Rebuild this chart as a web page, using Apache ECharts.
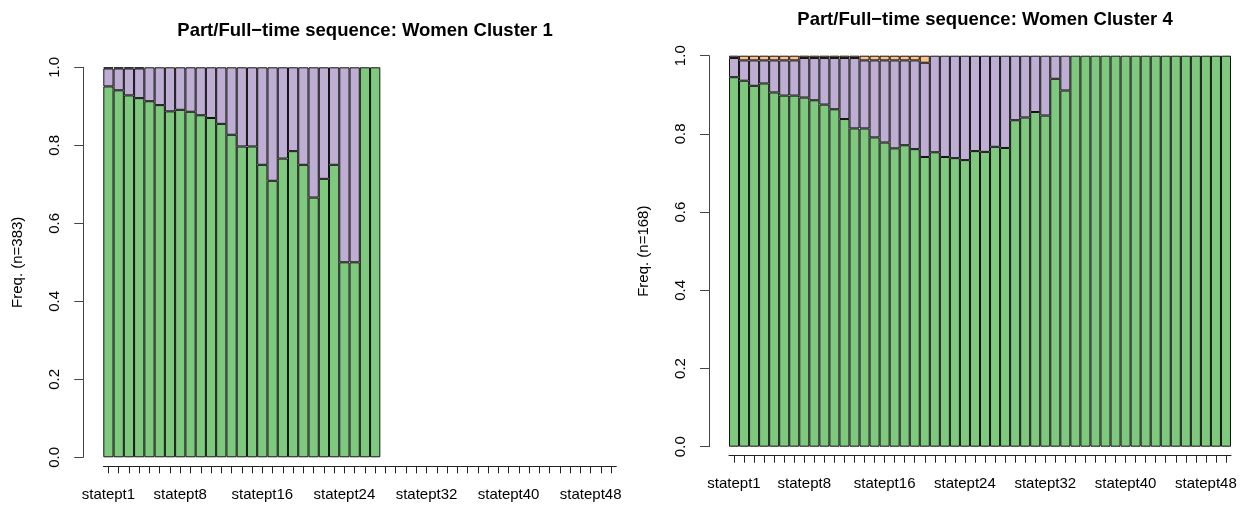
<!DOCTYPE html>
<html>
<head>
<meta charset="utf-8">
<script src="https://cdn.jsdelivr.net/npm/echarts@6/dist/echarts.min.js"></script>
<style>
html,body{margin:0;padding:0;background:#fff;}
#chart{width:1258px;height:510px;}
</style>
</head>
<body>
<div id="chart"></div>
<script>
// categories (50 time positions)
const categories = Array.from({length: 50}, (_, i) => 'statept' + (i + 1));
const shownLabels = [0, 7, 15, 23, 31, 39, 47];

// Women Cluster 1 (n=383): 27 positions observed
const green1 = [0.951,0.941,0.928,0.921,0.913,0.903,0.887,0.891,0.886,0.877,0.870,0.855,0.827,0.797,0.797,0.750,0.709,0.766,0.785,0.750,0.666,0.714,0.750,0.500,0.500,1.000,1.000];
const purple1 = [0.046,0.056,0.069,0.076,0.087,0.097,0.113,0.109,0.114,0.123,0.130,0.145,0.173,0.203,0.203,0.250,0.291,0.234,0.215,0.250,0.334,0.286,0.250,0.500,0.500,0,0];
const orange1 = [0.003,0.003,0.003,0.003,0,0,0,0,0,0,0,0,0,0,0,0,0,0,0,0,0,0,0,0,0,0,0];

// Women Cluster 4 (n=168): 50 positions
const green4 = [0.945,0.936,0.923,0.929,0.906,0.898,0.898,0.893,0.886,0.875,0.863,0.838,0.814,0.814,0.791,0.778,0.763,0.771,0.761,0.741,0.753,0.741,0.738,0.733,0.756,0.754,0.767,0.764,0.835,0.842,0.856,0.847,0.941,0.911,1,1,1,1,1,1,1,1,1,1,1,1,1,1,1,1];
const purple4 = [0.049,0.052,0.065,0.059,0.082,0.090,0.090,0.101,0.108,0.119,0.131,0.156,0.180,0.174,0.197,0.210,0.225,0.217,0.227,0.241,0.247,0.259,0.262,0.267,0.244,0.246,0.233,0.236,0.165,0.158,0.144,0.153,0.059,0.089,0,0,0,0,0,0,0,0,0,0,0,0,0,0,0,0];
const orange4 = [0.006,0.012,0.012,0.012,0.012,0.012,0.012,0.006,0.006,0.006,0.006,0.006,0.006,0.012,0.012,0.012,0.012,0.012,0.012,0.018,0,0,0,0,0,0,0,0,0,0,0,0,0,0,0,0,0,0,0,0,0,0,0,0,0,0,0,0,0,0];

const COLORS = {green: '#7FC97F', purple: '#BEAED4', orange: '#FDC086'};
const FONT = 'Liberation Sans, Arial, sans-serif';

const chart = echarts.init(document.getElementById('chart'), null, {renderer: 'canvas'});

// zero-height segments are not drawn (avoid doubled borders)
const noZero = (arr) => arr.map(v => (v > 0 ? v : '-'));

function xAxisFor(gridIndex) {
  return {
    type: 'category', gridIndex, data: categories, offset: 9,
    axisLine: {show: true, onZero: false, lineStyle: {color: '#222', width: 1}},
    axisTick: {show: true, alignWithLabel: true, interval: 0, length: 7, lineStyle: {color: '#222'}},
    axisLabel: {
      interval: (idx) => shownLabels.includes(idx),
      margin: 21, color: '#000', fontSize: 15, fontFamily: FONT
    },
    splitLine: {show: false}
  };
}
function yAxisFor(gridIndex, name) {
  return {
    type: 'value', gridIndex, min: 0, max: 1, interval: 0.2, offset: 20,
    name, nameLocation: 'middle', nameRotate: 90, nameGap: 58,
    nameTextStyle: {color: '#000', fontSize: 15, fontFamily: FONT},
    axisLine: {show: true, lineStyle: {color: '#444', width: 1}},
    axisTick: {show: true, length: 9, lineStyle: {color: '#444'}},
    axisLabel: {rotate: 90, margin: 21, color: '#000', fontSize: 15, fontFamily: FONT,
      formatter: (v) => v.toFixed(1)},
    splitLine: {show: false}
  };
}
function series(name, data, color, xi) {
  return {
    name, type: 'bar', stack: 's' + xi, xAxisIndex: xi, yAxisIndex: xi,
    data: noZero(data), barCategoryGap: '0%', barGap: '0%',
    itemStyle: {color, borderColor: '#111', borderWidth: 1},
    silent: true, animation: false
  };
}

chart.setOption({
  animation: false,
  backgroundColor: '#fff',
  title: [
    {text: 'Part/Full\u2212time sequence: Women Cluster 1', left: 360, top: 16, textAlign: 'center',
     textStyle: {fontSize: 18.5, fontWeight: 'bold', color: '#000', fontFamily: FONT}},
    {text: 'Part/Full\u2212time sequence: Women Cluster 4', left: 980, top: 5, textAlign: 'center',
     textStyle: {fontSize: 18.5, fontWeight: 'bold', color: '#000', fontFamily: FONT}}
  ],
  grid: [
    {left: 103.3, top: 67.3, width: 513, height: 390},
    {left: 729, top: 55.7, width: 502, height: 391}
  ],
  xAxis: [xAxisFor(0), xAxisFor(1)],
  yAxis: [yAxisFor(0, 'Freq. (n=383)'), yAxisFor(1, 'Freq. (n=168)')],
  series: [
    series('green', green1, COLORS.green, 0),
    series('purple', purple1, COLORS.purple, 0),
    series('orange', orange1, COLORS.orange, 0),
    series('green', green4, COLORS.green, 1),
    series('purple', purple4, COLORS.purple, 1),
    series('orange', orange4, COLORS.orange, 1)
  ]
});
</script>
</body>
</html>
